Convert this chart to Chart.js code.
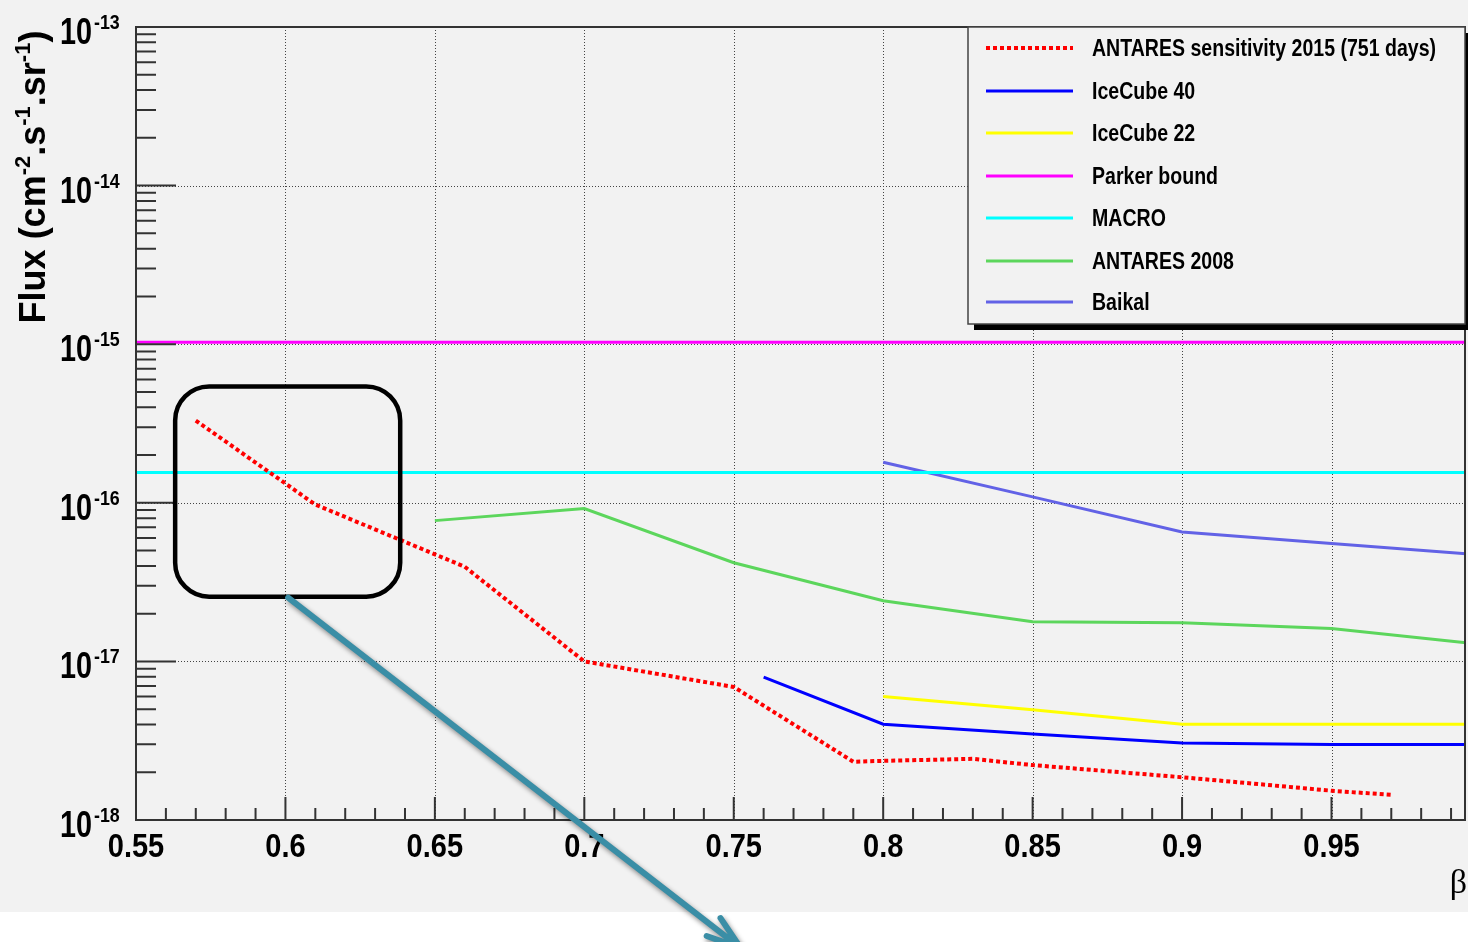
<!DOCTYPE html>
<html>
<head>
<meta charset="utf-8">
<title>Monopole flux limits</title>
<script src="https://cdn.jsdelivr.net/npm/chart.js@4.4.1/dist/chart.umd.min.js"></script>
<style>
  body { margin: 0; background: #ffffff; }
  canvas { display: block; }
</style>
</head>
<body>
<canvas id="fluxChart" width="1468" height="942"></canvas>
<script>
// values (beta vs flux, cm-2 s-1 sr-1)
const antares2015Beta = [0.57, 0.61, 0.66, 0.70, 0.75, 0.79, 0.80, 0.83, 0.85, 0.90, 0.95, 0.97];
const antares2015Flux = [3.3e-16, 9.75e-17, 3.95e-17, 1.0e-17, 6.9e-18, 2.33e-18, 2.36e-18, 2.43e-18, 2.22e-18, 1.86e-18, 1.53e-18, 1.44e-18];

const iceCube40Beta = [0.76, 0.80, 0.85, 0.90, 0.95, 0.995];
const iceCube40Flux = [7.96e-18, 4.02e-18, 3.49e-18, 3.06e-18, 2.99e-18, 2.99e-18];

const iceCube22Beta = [0.80, 0.85, 0.90, 0.995];
const iceCube22Flux = [6.0e-18, 4.95e-18, 4.02e-18, 4.02e-18];

const parkerBeta = [0.55, 0.995];
const parkerFlux = [1.03e-15, 1.03e-15];

const macroBeta = [0.55, 0.995];
const macroFlux = [1.55e-16, 1.55e-16];

const antares2008Beta = [0.65, 0.70, 0.75, 0.80, 0.85, 0.90, 0.95, 0.995];
const antares2008Flux = [7.72e-17, 9.2e-17, 4.19e-17, 2.41e-17, 1.78e-17, 1.75e-17, 1.61e-17, 1.31e-17];

const baikalBeta = [0.80, 0.85, 0.90, 0.95, 0.995];
const baikalFlux = [1.80e-16, 1.09e-16, 6.55e-17, 5.53e-17, 4.78e-17];

// axis ticks
const xMajorTicks = [0.55, 0.6, 0.65, 0.7, 0.75, 0.8, 0.85, 0.9, 0.95];
const xTickLabels = ['0.55', '0.6', '0.65', '0.7', '0.75', '0.8', '0.85', '0.9', '0.95'];
const yDecades = [-18, -17, -16, -15, -14, -13];

// zoom box + arrow, in data units
const boxCorners = [[0.5631, 5.42e-16], [0.6384, 2.56e-17]];
const arrowEnds = [[0.6009, 2.52e-17], [0.7523, 1.56e-19]];

const FONT = '"Liberation Sans", Arial, Helvetica, sans-serif';

const toPoints = (xs, ys) => {
    let pts = [];
    for (let i = 0; i < xs.length; i++) {
        pts.push({ x: xs[i], y: ys[i] });
    }
    return pts;
}

// squeezed text, ROOT fonts look narrower than Arial
const drawText = (ctx, text, x, y, font, align, sx) => {
    ctx.save();
    ctx.font = font;
    let w = ctx.measureText(text).width * sx;
    let left = x;
    if (align === 'right') left = x - w;
    if (align === 'center') left = x - w / 2;
    ctx.translate(left, y);
    ctx.scale(sx, 1);
    ctx.textAlign = 'left';
    ctx.fillText(text, 0, 0);
    ctx.restore();
    return w;
}

const rootStyle = {
    id: 'rootStyle',
    beforeDraw(chart) {
        const ctx = chart.ctx;
        const a = chart.chartArea;
        const xs = chart.scales.x, ys = chart.scales.y;
        ctx.save();
        ctx.fillStyle = '#f2f2f2';
        ctx.fillRect(0, 0, chart.width, 912);
        ctx.fillStyle = '#ffffff';
        ctx.fillRect(0, 912, chart.width, chart.height - 912);

        // dotted grid at major ticks
        ctx.strokeStyle = '#444';
        ctx.lineWidth = 1;
        ctx.setLineDash([1, 2]);
        xMajorTicks.slice(1).forEach(v => {
            let px = Math.round(xs.getPixelForValue(v)) + 0.5;
            ctx.beginPath();
            ctx.moveTo(px, a.top);
            ctx.lineTo(px, a.bottom);
            ctx.stroke();
        });
        yDecades.slice(1, -1).forEach(e => {
            let py = Math.round(ys.getPixelForValue(Math.pow(10, e))) + 0.5;
            ctx.beginPath();
            ctx.moveTo(a.left, py);
            ctx.lineTo(a.right, py);
            ctx.stroke();
        });
        ctx.restore();
    },
    afterDatasetsDraw(chart) {
        const ctx = chart.ctx;
        const a = chart.chartArea;
        const xs = chart.scales.x, ys = chart.scales.y;
        ctx.save();

        // frame
        ctx.strokeStyle = '#333';
        ctx.lineWidth = 2;
        ctx.strokeRect(a.left, a.top, a.right - a.left - 1, a.bottom - a.top);

        // ticks pointing into the frame
        ctx.beginPath();
        for (let i = 55; i < 100; i++) {
            let px = xs.getPixelForValue(i / 100);
            let len = (i % 5 === 0) ? 23 : 12;
            ctx.moveTo(px, a.bottom);
            ctx.lineTo(px, a.bottom - len);
        }
        yDecades.forEach(e => {
            let py = ys.getPixelForValue(Math.pow(10, e));
            ctx.moveTo(a.left, py);
            ctx.lineTo(a.left + 40, py);
            if (e === -13) return;
            for (let m = 2; m <= 9; m++) {
                let pm = ys.getPixelForValue(m * Math.pow(10, e));
                ctx.moveTo(a.left, pm);
                ctx.lineTo(a.left + 20, pm);
            }
        });
        ctx.stroke();

        // tick labels
        ctx.fillStyle = '#000';
        xMajorTicks.forEach((v, i) => {
            drawText(ctx, xTickLabels[i], xs.getPixelForValue(v), a.bottom + 37, 'bold 33px ' + FONT, 'center', 0.88);
        });
        yDecades.forEach(e => {
            let py = ys.getPixelForValue(Math.pow(10, e));
            drawText(ctx, '10', 92, py + 17, 'bold 36px ' + FONT, 'right', 0.8);
            drawText(ctx, String(e), 94, py + 2, 'bold 21px ' + FONT, 'left', 0.85);
        });

        // y title, rotated, with superscripts
        const parts = [['Flux (cm', 0], ['-2', 1], ['.s', 0], ['-1', 1], ['.sr', 0], ['-1', 1], [')', 0]];
        const mainFont = 'bold 36px ' + FONT, supFont = 'bold 22px ' + FONT;
        let total = 0;
        parts.forEach(p => {
            ctx.font = p[1] ? supFont : mainFont;
            total += ctx.measureText(p[0]).width;
        });
        ctx.save();
        ctx.translate(45, 177);
        ctx.rotate(-Math.PI / 2);
        let cx = -total / 2;
        parts.forEach(p => {
            ctx.font = p[1] ? supFont : mainFont;
            ctx.textAlign = 'left';
            ctx.fillText(p[0], cx, p[1] ? -15 : 0);
            cx += ctx.measureText(p[0]).width;
        });
        ctx.restore();

        // x title
        ctx.font = '34px "Liberation Serif", "DejaVu Serif", serif';
        ctx.textAlign = 'right';
        ctx.fillText('\u03b2', 1467, 893);

        // legend box with ROOT drop shadow
        const lx = 968, ly = 27, lw = 497, lh = 297;
        ctx.fillStyle = '#000';
        ctx.fillRect(lx + 6, ly + 6, lw, lh);
        ctx.fillStyle = '#f2f2f2';
        ctx.fillRect(lx, ly, lw, lh);
        ctx.strokeStyle = '#444';
        ctx.lineWidth = 1.5;
        ctx.strokeRect(lx, ly, lw, lh);
        const rowY = [48, 91, 133, 176, 218, 261, 302];
        chart.data.datasets.forEach((ds, i) => {
            ctx.save();
            ctx.strokeStyle = ds.borderColor;
            ctx.lineWidth = ds.borderDash ? 4 : 3;
            ctx.setLineDash(ds.borderDash || []);
            ctx.beginPath();
            ctx.moveTo(986, rowY[i]);
            ctx.lineTo(1073, rowY[i]);
            ctx.stroke();
            ctx.restore();
            ctx.fillStyle = '#000';
            drawText(ctx, ds.label, 1092, rowY[i] + 8, 'bold 23px ' + FONT, 'left', 0.85);
        });

        // zoom box around the low-beta part
        let bx0 = xs.getPixelForValue(boxCorners[0][0]), by0 = ys.getPixelForValue(boxCorners[0][1]);
        let bx1 = xs.getPixelForValue(boxCorners[1][0]), by1 = ys.getPixelForValue(boxCorners[1][1]);
        ctx.strokeStyle = '#000';
        ctx.lineWidth = 4.5;
        ctx.beginPath();
        ctx.roundRect(bx0, by0, bx1 - bx0, by1 - by0, 34);
        ctx.stroke();

        // arrow
        let ax0 = xs.getPixelForValue(arrowEnds[0][0]), ay0 = ys.getPixelForValue(arrowEnds[0][1]);
        let ax1 = xs.getPixelForValue(arrowEnds[1][0]), ay1 = ys.getPixelForValue(arrowEnds[1][1]);
        let ang = Math.atan2(ay0 - ay1, ax0 - ax1);
        ctx.shadowColor = 'rgba(0,0,0,0.45)';
        ctx.shadowBlur = 5;
        ctx.shadowOffsetX = 2;
        ctx.shadowOffsetY = 3;
        ctx.strokeStyle = '#3a8ea6';
        ctx.lineWidth = 6;
        ctx.lineCap = 'round';
        ctx.beginPath();
        ctx.moveTo(ax0, ay0);
        ctx.lineTo(ax1, ay1);
        ctx.moveTo(ax1 + 36 * Math.cos(ang + 0.32), ay1 + 36 * Math.sin(ang + 0.32));
        ctx.lineTo(ax1, ay1);
        ctx.lineTo(ax1 + 36 * Math.cos(ang - 0.32), ay1 + 36 * Math.sin(ang - 0.32));
        ctx.stroke();

        ctx.restore();
    }
};

var ctx = document.getElementById('fluxChart').getContext('2d');
var fluxChart = new Chart(ctx, {
    type: 'line',
    data: {
        datasets: [
            { label: 'ANTARES sensitivity 2015 (751 days)', data: toPoints(antares2015Beta, antares2015Flux), borderColor: '#ff0000', borderWidth: 4, borderDash: [4, 3] },
            { label: 'IceCube 40', data: toPoints(iceCube40Beta, iceCube40Flux), borderColor: '#0000ff', borderWidth: 3 },
            { label: 'IceCube 22', data: toPoints(iceCube22Beta, iceCube22Flux), borderColor: '#ffff00', borderWidth: 3 },
            { label: 'Parker bound', data: toPoints(parkerBeta, parkerFlux), borderColor: '#ff00ff', borderWidth: 3 },
            { label: 'MACRO', data: toPoints(macroBeta, macroFlux), borderColor: '#00ffff', borderWidth: 3 },
            { label: 'ANTARES 2008', data: toPoints(antares2008Beta, antares2008Flux), borderColor: '#5cd65c', borderWidth: 3 },
            { label: 'Baikal', data: toPoints(baikalBeta, baikalFlux), borderColor: '#6262e6', borderWidth: 3 }
        ]
    },
    options: {
        responsive: false,
        animation: false,
        devicePixelRatio: 1,
        layout: { padding: { left: 0, top: 27, right: 2, bottom: 0 } },
        elements: {
            point: { radius: 0, hoverRadius: 0 },
            line: { tension: 0, fill: false, borderCapStyle: 'butt' }
        },
        scales: {
            x: {
                type: 'linear',
                min: 0.55,
                max: 0.995,
                grid: { display: false },
                border: { display: false },
                ticks: { display: false },
                afterFit: (scale) => { scale.height = 122; }
            },
            y: {
                type: 'logarithmic',
                min: 1e-18,
                max: 1e-13,
                grid: { display: false },
                border: { display: false },
                ticks: { display: false },
                afterFit: (scale) => { scale.width = 136; }
            }
        },
        plugins: {
            legend: { display: false },
            tooltip: { enabled: false }
        }
    },
    plugins: [rootStyle]
});
</script>
</body>
</html>
